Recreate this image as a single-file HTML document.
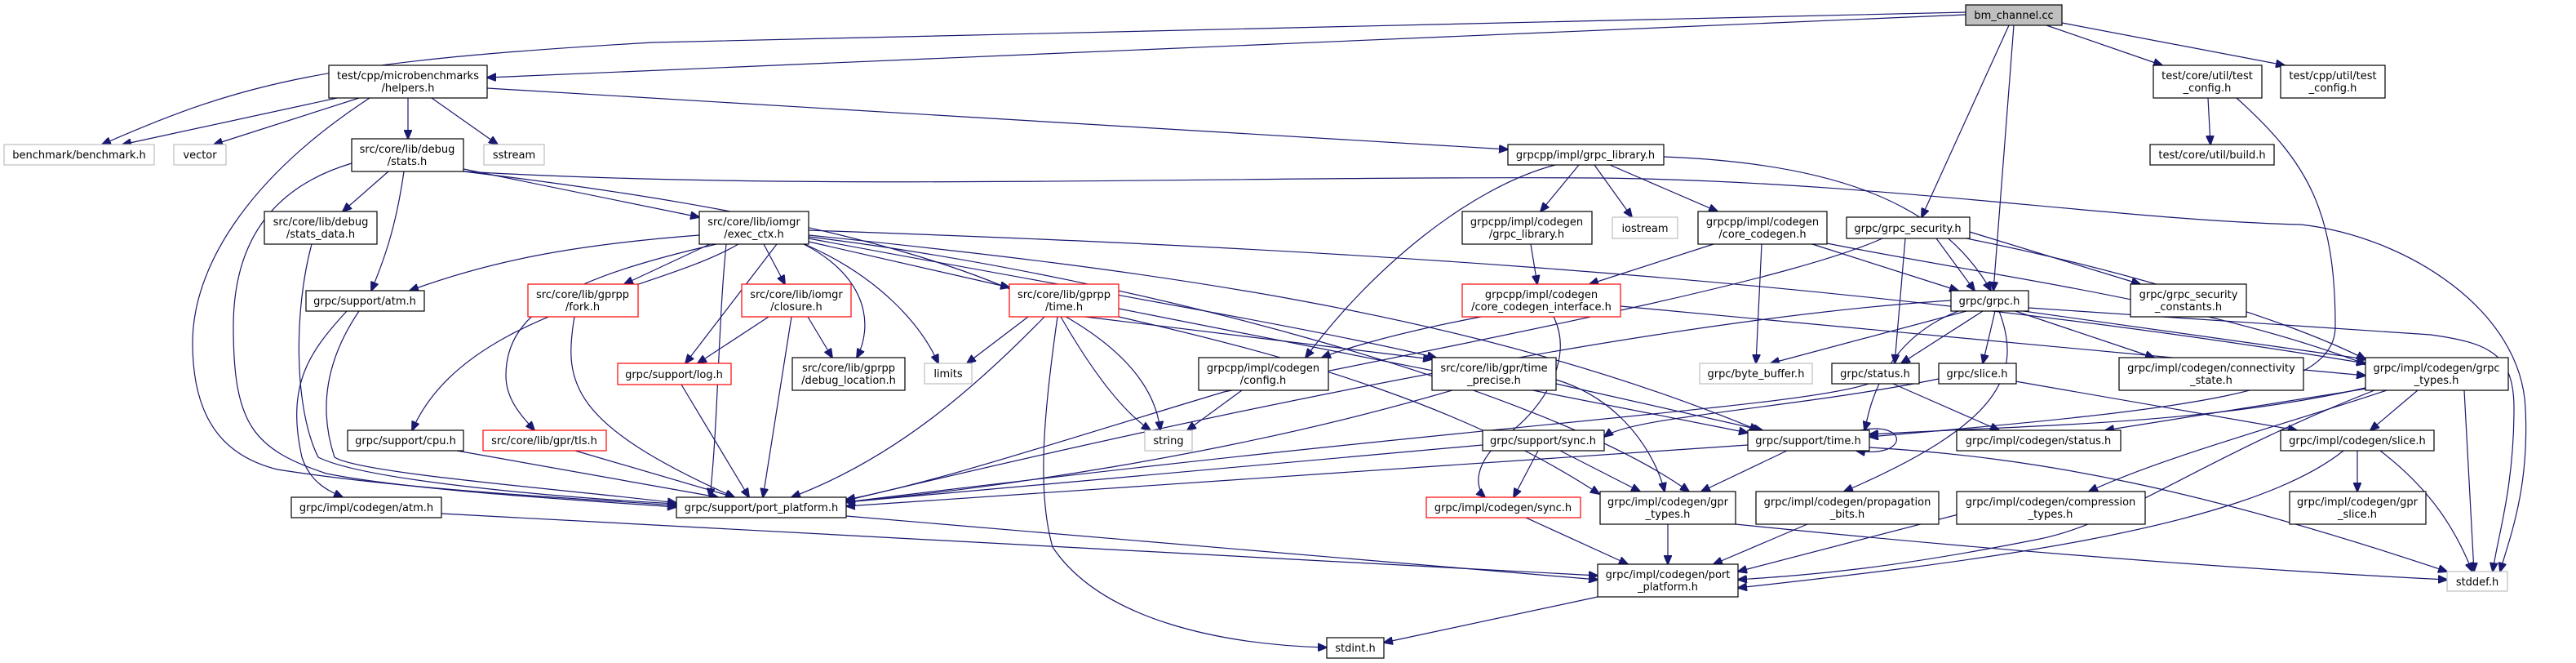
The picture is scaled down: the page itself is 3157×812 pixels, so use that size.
<!DOCTYPE html>
<html><head><meta charset="utf-8"><style>
html,body{margin:0;padding:0;background:#fff;}
svg{display:block;}
text{font-family:"DejaVu Sans","Liberation Sans",sans-serif;font-size:13px;fill:#000;text-anchor:middle;}
.e{fill:none;stroke:#191970;stroke-width:1.2;marker-end:url(#a);}
.n{fill:#fff;stroke:#000;stroke-width:1.2;}
.r{fill:#fff;stroke:#ff0000;stroke-width:1.2;}
.g{fill:#fff;stroke:#bfbfbf;stroke-width:1.2;}
</style></head><body>
<svg width="3157" height="812" viewBox="0 0 3157 812" xmlns="http://www.w3.org/2000/svg">
<defs><marker id="a" markerWidth="12" markerHeight="10" refX="11" refY="5" orient="auto" markerUnits="userSpaceOnUse"><path d="M0,0 L12,5 L0,10 z" fill="#191970" stroke="#191970"/></marker></defs>
<g>
<path class="e" d="M2409,18 L597,95"/>
<path class="e" d="M2409,15 L800,52 C400,75 300,100 125,177"/>
<path class="e" d="M2508,31 L2650,80"/>
<path class="e" d="M2527,28 L2800,80"/>
<path class="e" d="M2462,31 L2355,266"/>
<path class="e" d="M2468,31 L2443,356"/>
<path class="e" d="M413,120 L150,177"/>
<path class="e" d="M440,120 L262,177"/>
<path class="e" d="M500,120 L500,170"/>
<path class="e" d="M529,120 L610,177"/>
<path class="e" d="M597,108 L1848,183"/>
<path class="e" d="M453,120 C300,220 236,330 236,420 C236,520 280,560 340,575 C500,600 700,610 829,619"/>
<path class="e" d="M476,210 L420,259"/>
<path class="e" d="M495,210 C485,280 470,320 455,356"/>
<path class="e" d="M568,207 L857,266"/>
<path class="e" d="M431,200 C330,230 286,300 286,400 C286,520 310,550 400,580 C500,600 700,612 829,621"/>
<path class="e" d="M568,210 C900,250 1400,330 1422,527"/>
<path class="e" d="M568,210 C1000,235 1500,215 1960,218 C2300,222 2600,270 2820,275 C2950,290 3090,380 3095,500 C3100,600 3075,660 3064,700"/>
<path class="e" d="M857,288 C700,300 600,320 502,356"/>
<path class="e" d="M870,299 L765,348"/>
<path class="e" d="M878,299 C700,340 620,380 620,460 C620,490 640,510 655,527"/>
<path class="e" d="M905,299 C800,360 570,380 505,527"/>
<path class="e" d="M952,299 L840,445"/>
<path class="e" d="M936,299 L962,348"/>
<path class="e" d="M985,299 C1065,340 1070,400 1050,438"/>
<path class="e" d="M986,299 C1080,340 1130,400 1150,445"/>
<path class="e" d="M991,296 L1237,352"/>
<path class="e" d="M890,299 C880,400 880,520 870,609"/>
<path class="e" d="M991,290 C1400,340 1900,480 2070,602"/>
<path class="e" d="M991,288 C1400,330 1800,380 2155,527"/>
<path class="e" d="M991,282 C1500,300 2200,330 2899,445"/>
<path class="e" d="M991,292 C1300,350 1600,400 1760,438"/>
<path class="e" d="M942,388 L855,445"/>
<path class="e" d="M990,388 L1020,438"/>
<path class="e" d="M970,388 L935,609"/>
<path class="e" d="M704,388 C690,470 700,520 900,609"/>
<path class="e" d="M705,552 L900,609"/>
<path class="e" d="M560,552 L880,609"/>
<path class="e" d="M835,471 L918,609"/>
<path class="e" d="M425,381 C380,430 350,470 370,560 C380,590 400,600 420,609"/>
<path class="e" d="M440,381 C400,440 390,500 410,560 C440,580 700,600 829,616"/>
<path class="e" d="M382,299 C360,380 360,500 390,560 C450,590 700,610 829,617"/>
<path class="e" d="M541,629 L1958,705"/>
<path class="e" d="M1037,632 L1958,710"/>
<path class="e" d="M1260,388 L1185,445"/>
<path class="e" d="M1300,388 C1330,440 1370,500 1410,527"/>
<path class="e" d="M1280,388 C1200,470 1100,560 970,609"/>
<path class="e" d="M1330,388 L1755,440"/>
<path class="e" d="M1371,378 L2142,530"/>
<path class="e" d="M1371,388 C1600,440 1800,500 1960,605"/>
<path class="e" d="M1296,388 C1280,500 1270,600 1290,670 C1350,760 1500,790 1626,793"/>
<path class="e" d="M1522,478 L1455,527"/>
<path class="e" d="M1780,478 C1500,560 1200,600 1037,615"/>
<path class="e" d="M1907,470 L2160,527"/>
<path class="e" d="M1907,465 C1990,490 2030,560 2040,602"/>
<path class="e" d="M1935,202 L1888,259"/>
<path class="e" d="M1954,202 L2000,266"/>
<path class="e" d="M1973,202 L2105,259"/>
<path class="e" d="M1906,202 C1800,230 1680,330 1600,438"/>
<path class="e" d="M2039,192 C2250,200 2380,250 2440,356"/>
<path class="e" d="M1876,299 L1884,348"/>
<path class="e" d="M2100,299 L1948,348"/>
<path class="e" d="M2159,299 L2152,445"/>
<path class="e" d="M2221,299 L2400,356"/>
<path class="e" d="M2239,298 C2450,340 2700,370 2899,446"/>
<path class="e" d="M1815,388 C1700,410 1640,430 1620,438"/>
<path class="e" d="M1904,388 C1930,440 1890,500 1850,530 C1800,570 1810,600 1820,609"/>
<path class="e" d="M1986,375 L2899,460"/>
<path class="e" d="M2373,292 L2420,356"/>
<path class="e" d="M2335,292 L2322,445"/>
<path class="e" d="M2414,284 L2623,348"/>
<path class="e" d="M2307,292 C2200,340 1900,400 1500,480 C1300,540 1150,590 1037,612"/>
<path class="e" d="M2410,292 C2600,330 2800,390 2899,440"/>
<path class="e" d="M2410,381 L2170,445"/>
<path class="e" d="M2430,381 L2330,445"/>
<path class="e" d="M2445,381 L2430,445"/>
<path class="e" d="M2470,381 L2640,438"/>
<path class="e" d="M2480,381 L2900,440"/>
<path class="e" d="M2450,381 C2480,460 2450,520 2260,602"/>
<path class="e" d="M2400,381 C2300,420 2290,510 2285,527"/>
<path class="e" d="M2391,368 C2200,380 1800,430 1037,613"/>
<path class="e" d="M2486,377 L2979,410 C3050,420 3081,433 3081,500 C3081,600 3060,660 3055,700"/>
<path class="e" d="M2320,470 L2450,527"/>
<path class="e" d="M2290,470 C2200,500 1800,520 1037,615"/>
<path class="e" d="M2470,467 L2815,527"/>
<path class="e" d="M2376,464 C2200,500 2000,510 1966,535"/>
<path class="e" d="M1885,552 L1855,609"/>
<path class="e" d="M1912,552 L2010,602"/>
<path class="e" d="M1817,545 L1037,615"/>
<path class="e" d="M2190,552 L2085,602"/>
<path class="e" d="M2142,545 L1037,620"/>
<path class="e" d="M2280,527 C2340,515 2340,562 2275,552"/>
<path class="e" d="M2291,548 C2500,560 2700,600 2999,700"/>
<path class="e" d="M1870,634 L1995,691"/>
<path class="e" d="M2044,642 L2044,691"/>
<path class="e" d="M2127,642 C2500,680 2800,700 2999,710"/>
<path class="e" d="M2215,642 L2100,691"/>
<path class="e" d="M2400,630 L2130,700"/>
<path class="e" d="M2900,476 L2580,527"/>
<path class="e" d="M2963,478 L2905,527"/>
<path class="e" d="M2925,478 C2800,520 2650,560 2560,602"/>
<path class="e" d="M2910,478 C2700,560 2600,640 2500,660 C2300,700 2200,705 2130,710"/>
<path class="e" d="M2899,475 C2700,520 2500,520 2291,532"/>
<path class="e" d="M3020,478 L3032,700"/>
<path class="e" d="M2889,552 L2889,602"/>
<path class="e" d="M2917,552 C2980,600 3010,650 3030,700"/>
<path class="e" d="M2872,552 C2750,650 2400,690 2130,720"/>
<path class="e" d="M1958,731 L1696,787"/>
<path class="e" d="M2706,120 L2709,177"/>
<path class="e" d="M2741,120 C2830,200 2862,260 2862,400 C2862,480 2700,500 2291,535"/>
</g>
<g>
<rect x="2409" y="6" width="118" height="25" fill="#bfbfbf" stroke="#000" stroke-width="1.2"/><text x="2468" y="23">bm_channel.cc</text>
<rect class="n" x="403" y="80" width="194" height="40"/><text x="500" y="97">test/cpp/microbenchmarks</text><text x="500" y="112">/helpers.h</text>
<rect class="n" x="2639" y="80" width="133" height="40"/><text x="2705" y="97">test/core/util/test</text><text x="2705" y="112">_config.h</text>
<rect class="n" x="2795" y="80" width="128" height="40"/><text x="2859" y="97">test/cpp/util/test</text><text x="2859" y="112">_config.h</text>
<rect class="g" x="5" y="177" width="184" height="25"/><text x="97" y="194">benchmark/benchmark.h</text>
<rect class="g" x="213" y="177" width="64" height="25"/><text x="245" y="194">vector</text>
<rect class="n" x="431" y="170" width="137" height="40"/><text x="499" y="187">src/core/lib/debug</text><text x="499" y="202">/stats.h</text>
<rect class="g" x="593" y="177" width="74" height="25"/><text x="630" y="194">sstream</text>
<rect class="n" x="1848" y="177" width="191" height="25"/><text x="1943" y="194">grpcpp/impl/grpc_library.h</text>
<rect class="n" x="2635" y="177" width="152" height="25"/><text x="2711" y="194">test/core/util/build.h</text>
<rect class="n" x="324" y="259" width="138" height="40"/><text x="393" y="276">src/core/lib/debug</text><text x="393" y="291">/stats_data.h</text>
<rect class="n" x="857" y="259" width="134" height="40"/><text x="924" y="276">src/core/lib/iomgr</text><text x="924" y="291">/exec_ctx.h</text>
<rect class="n" x="1792" y="259" width="159" height="40"/><text x="1871" y="276">grpcpp/impl/codegen</text><text x="1871" y="291">/grpc_library.h</text>
<rect class="g" x="1976" y="266" width="80" height="26"/><text x="2016" y="284">iostream</text>
<rect class="n" x="2081" y="259" width="158" height="40"/><text x="2160" y="276">grpcpp/impl/codegen</text><text x="2160" y="291">/core_codegen.h</text>
<rect class="n" x="2263" y="266" width="151" height="26"/><text x="2338" y="284">grpc/grpc_security.h</text>
<rect class="n" x="375" y="356" width="145" height="25"/><text x="447" y="373">grpc/support/atm.h</text>
<rect class="r" x="647" y="348" width="135" height="40"/><text x="714" y="365">src/core/lib/gprpp</text><text x="714" y="380">/fork.h</text>
<rect class="r" x="909" y="348" width="134" height="40"/><text x="976" y="365">src/core/lib/iomgr</text><text x="976" y="380">/closure.h</text>
<rect class="r" x="1237" y="348" width="134" height="40"/><text x="1304" y="365">src/core/lib/gprpp</text><text x="1304" y="380">/time.h</text>
<rect class="r" x="1792" y="348" width="194" height="40"/><text x="1889" y="365">grpcpp/impl/codegen</text><text x="1889" y="380">/core_codegen_interface.h</text>
<rect class="n" x="2391" y="356" width="95" height="25"/><text x="2438" y="373">grpc/grpc.h</text>
<rect class="n" x="2611" y="348" width="142" height="40"/><text x="2682" y="365">grpc/grpc_security</text><text x="2682" y="380">_constants.h</text>
<rect class="r" x="757" y="445" width="139" height="26"/><text x="826" y="463">grpc/support/log.h</text>
<rect class="n" x="971" y="438" width="138" height="40"/><text x="1040" y="455">src/core/lib/gprpp</text><text x="1040" y="470">/debug_location.h</text>
<rect class="g" x="1133" y="445" width="58" height="25"/><text x="1162" y="462">limits</text>
<rect class="n" x="1469" y="438" width="159" height="40"/><text x="1548" y="455">grpcpp/impl/codegen</text><text x="1548" y="470">/config.h</text>
<rect class="n" x="1755" y="438" width="152" height="40"/><text x="1831" y="455">src/core/lib/gpr/time</text><text x="1831" y="470">_precise.h</text>
<rect class="g" x="2083" y="445" width="138" height="25"/><text x="2152" y="462">grpc/byte_buffer.h</text>
<rect class="n" x="2245" y="445" width="107" height="25"/><text x="2298" y="462">grpc/status.h</text>
<rect class="n" x="2376" y="445" width="95" height="25"/><text x="2423" y="462">grpc/slice.h</text>
<rect class="n" x="2597" y="438" width="226" height="40"/><text x="2710" y="455">grpc/impl/codegen/connectivity</text><text x="2710" y="470">_state.h</text>
<rect class="n" x="2899" y="438" width="175" height="40"/><text x="2986" y="455">grpc/impl/codegen/grpc</text><text x="2986" y="470">_types.h</text>
<rect class="n" x="426" y="527" width="142" height="25"/><text x="497" y="544">grpc/support/cpu.h</text>
<rect class="r" x="592" y="527" width="151" height="25"/><text x="667" y="544">src/core/lib/gpr/tls.h</text>
<rect class="g" x="1403" y="527" width="58" height="25"/><text x="1432" y="544">string</text>
<rect class="n" x="1817" y="527" width="149" height="25"/><text x="1891" y="544">grpc/support/sync.h</text>
<rect class="n" x="2142" y="527" width="149" height="25"/><text x="2216" y="544">grpc/support/time.h</text>
<rect class="n" x="2398" y="527" width="201" height="25"/><text x="2498" y="544">grpc/impl/codegen/status.h</text>
<rect class="n" x="2795" y="527" width="188" height="25"/><text x="2889" y="544">grpc/impl/codegen/slice.h</text>
<rect class="n" x="357" y="609" width="184" height="25"/><text x="449" y="626">grpc/impl/codegen/atm.h</text>
<rect class="n" x="829" y="609" width="208" height="25"/><text x="933" y="626">grpc/support/port_platform.h</text>
<rect class="r" x="1748" y="609" width="189" height="25"/><text x="1842" y="626">grpc/impl/codegen/sync.h</text>
<rect class="n" x="1961" y="602" width="166" height="40"/><text x="2044" y="619">grpc/impl/codegen/gpr</text><text x="2044" y="634">_types.h</text>
<rect class="n" x="2152" y="602" width="224" height="40"/><text x="2264" y="619">grpc/impl/codegen/propagation</text><text x="2264" y="634">_bits.h</text>
<rect class="n" x="2398" y="602" width="231" height="40"/><text x="2513" y="619">grpc/impl/codegen/compression</text><text x="2513" y="634">_types.h</text>
<rect class="n" x="2806" y="602" width="167" height="40"/><text x="2889" y="619">grpc/impl/codegen/gpr</text><text x="2889" y="634">_slice.h</text>
<rect class="n" x="1958" y="691" width="172" height="40"/><text x="2044" y="708">grpc/impl/codegen/port</text><text x="2044" y="723">_platform.h</text>
<rect class="g" x="2999" y="700" width="74" height="24"/><text x="3036" y="717">stddef.h</text>
<rect class="n" x="1626" y="781" width="70" height="25"/><text x="1661" y="798">stdint.h</text>
</g>
</svg>
</body></html>
